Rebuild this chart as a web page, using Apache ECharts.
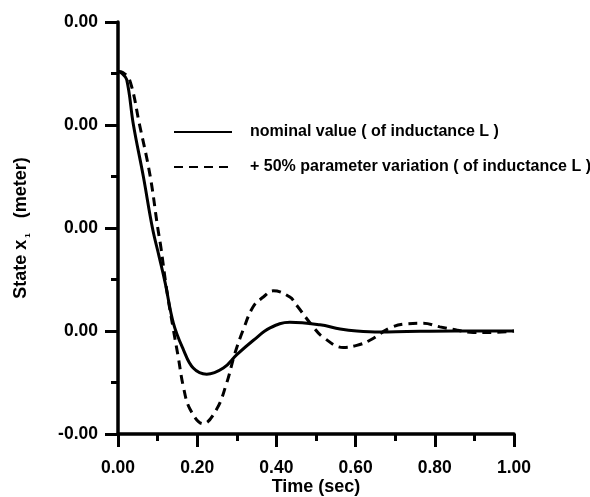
<!DOCTYPE html>
<html>
<head>
<meta charset="utf-8">
<script src="https://cdn.jsdelivr.net/npm/echarts@6/dist/echarts.min.js"></script>
<style>
  html, body { margin: 0; padding: 0; background: #fff; }
  #chart { width: 590px; height: 497px; }
</style>
</head>
<body>
<div id="chart"></div>
<script>
// 时间轴 (sec)
const timeNominal = [0, 0.01, 0.022, 0.039, 0.064, 0.087, 0.104, 0.119, 0.14, 0.165, 0.19, 0.224, 0.266, 0.30, 0.342, 0.384, 0.434, 0.51, 0.561, 0.603, 0.662, 0.73, 0.85, 1.0];
// 标称值曲线 (meter)
const stateNominal = [0.00252, 0.0025, 0.00244, 0.002, 0.0015, 0.001, 0.00072, 0.00047, 0.000075, -0.00018, -0.00036, -0.00042, -0.00036, -0.00023, -0.00009, 0.00003, 0.000085, 0.00006, 0.00002, 0, -0.00001, -0.000005, 0, 0];
const timeVaried = [0, 0.012, 0.03, 0.054, 0.081, 0.1, 0.108, 0.123, 0.14, 0.152, 0.165, 0.182, 0.215, 0.249, 0.274, 0.295, 0.316, 0.342, 0.367, 0.392, 0.434, 0.451, 0.493, 0.518, 0.569, 0.603, 0.636, 0.687, 0.729, 0.771, 0.813, 0.855, 0.897, 0.939, 1.0];
// +50% 参数变化曲线 (meter)
const stateVaried = [0.00252, 0.00251, 0.00243, 0.00201, 0.00151, 0.00101, 0.00082, 0.0004, 0.00001, -0.00025, -0.00054, -0.00076, -0.0009, -0.00076, -0.00051, -0.00022, 0.00001, 0.00024, 0.00033, 0.00039, 0.00033, 0.00025, 0.00004, -0.00006, -0.00016, -0.00014, -0.00009, 0.00003, 0.00007, 0.000075, 0.00004, 0.00001, -0.000015, -0.000015, 0];
const seriesNames = ["nominal value ( of inductance L )", "+ 50% parameter variation ( of inductance L )"];

const font = "'Liberation Sans', Arial, sans-serif";

const chartInstance = echarts.init(document.getElementById("chart"), null, { renderer: "canvas" });

// 坐标轴公共样式
const axisCommon = {
  axisLine: { show: true, onZero: false, lineStyle: { color: "#000", width: 3.5 } },
  axisTick: { show: true, inside: false, length: 13, lineStyle: { color: "#000", width: 3 } },
  minorTick: { show: true, splitNumber: 2, length: 7, lineStyle: { color: "#000", width: 3 } },
  splitLine: { show: false },
  minorSplitLine: { show: false },
  axisLabel: {
    color: "#000",
    fontFamily: font,
    fontWeight: "bold",
    fontSize: 17.5,
    formatter: (v) => (Math.abs(v) < 1e-9 ? "0.00" : v.toFixed(2)),
  },
  nameTextStyle: { color: "#000", fontFamily: font, fontWeight: "bold", fontSize: 18 },
};

const option = {
  backgroundColor: "#fff",
  animation: false,
  grid: { left: 118, right: 76, top: 22, bottom: 63, containLabel: false, outerBoundsMode: "none" },
  legend: {
    data: seriesNames,
    orient: "vertical",
    left: 168,
    top: 119,
    itemWidth: 58,
    itemHeight: 14,
    itemGap: 19,
    itemStyle: { opacity: 0 },
    textStyle: { color: "#000", fontFamily: font, fontWeight: "bold", fontSize: 16, padding: [0, 0, 0, 13] },
  },
  xAxis: Object.assign({}, axisCommon, {
    type: "value",
    min: 0,
    max: 1,
    interval: 0.2,
    name: "Time (sec)",
    nameLocation: "middle",
    nameGap: 44,
    nameMoveOverlap: false,
    axisLabel: Object.assign({}, axisCommon.axisLabel, { margin: 25 }),
  }),
  yAxis: Object.assign({}, axisCommon, {
    type: "value",
    min: -0.001,
    max: 0.003,
    interval: 0.001,
    name: "{t|State x}{s|1}{t|   (meter)}",
    nameLocation: "middle",
    nameRotate: 90,
    nameGap: 86,
    nameMoveOverlap: false,
    nameTextStyle: Object.assign({}, axisCommon.nameTextStyle, {
      rich: {
        t: { color: "#000", fontFamily: font, fontWeight: "bold", fontSize: 18, lineHeight: 22 },
        s: { color: "#000", fontFamily: font, fontWeight: "bold", fontSize: 8, verticalAlign: "bottom", lineHeight: 22, padding: [6, 0, 0, 2] },
      },
    }),
    axisLabel: Object.assign({}, axisCommon.axisLabel, { margin: 20 }),
  }),
  series: [
    {
      name: seriesNames[0],
      type: "line",
      smooth: 0.4,
      symbol: "none",
      data: timeNominal.map((t, i) => [t, stateNominal[i]]),
      lineStyle: { color: "#000", width: 3, type: "solid" },
      itemStyle: { color: "#000" },
    },
    {
      name: seriesNames[1],
      type: "line",
      smooth: 0.4,
      symbol: "none",
      data: timeVaried.map((t, i) => [t, stateVaried[i]]),
      lineStyle: { color: "#000", width: 3, type: [9, 6] },
      itemStyle: { color: "#000" },
    },
  ],
};
chartInstance.setOption(option);
</script>
</body>
</html>
